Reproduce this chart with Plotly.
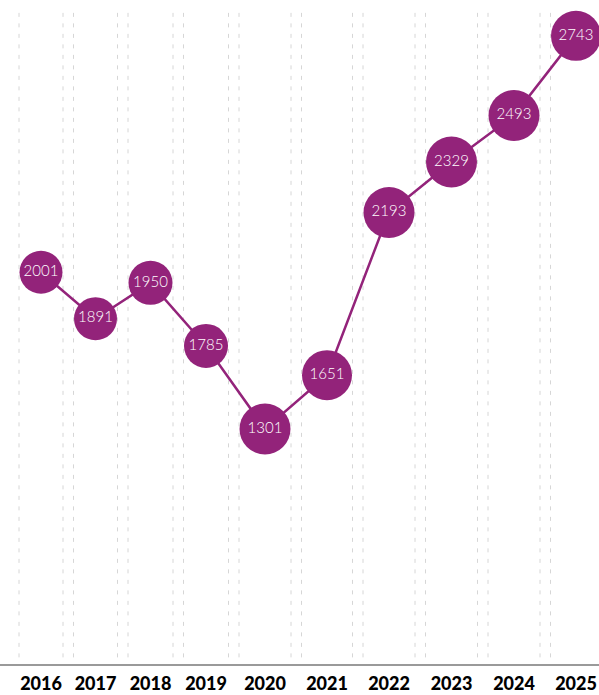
import plotly.graph_objects as go

# ---- data ----
years = ["2016", "2017", "2018", "2019", "2020", "2021", "2022", "2023", "2024", "2025"]
values = [2001, 1891, 1950, 1785, 1301, 1651, 2193, 2329, 2493, 2743]
# vertical position of each point (0-100 scale)
heights = [59.0, 52.0, 57.4, 47.9, 35.4, 43.5, 68.0, 75.6, 82.6, 94.6]

# ---- style ----
marker_sizes = [43, 43, 44, 44, 51, 50, 51, 51, 51, 50]
color = "#93237a"
start = 19
gap = 10.5

col_starts, centers, col_ends = [], [], []
pos = start
for s in marker_sizes:
    w = s + 1
    col_starts.append(pos)
    centers.append(pos + w / 2)
    col_ends.append(pos + w)
    pos += w + gap

fig = go.Figure()

fig.add_trace(go.Scatter(
    x=centers, y=heights,
    mode="lines+markers+text",
    line=dict(color=color, width=2.5),
    marker=dict(size=marker_sizes, color=color, opacity=1, line=dict(width=0)),
    opacity=1,
    text=[str(v) for v in values],
    textposition="middle center",
    textfont=dict(family="Lato", size=15, color="white", weight=300),
    hoverinfo="skip",
    showlegend=False,
    cliponaxis=False,
))

shapes = []
for xs in col_starts + col_ends:
    if xs > 598:
        continue
    shapes.append(dict(
        type="line", xref="x", yref="paper",
        x0=xs, x1=xs, y0=0.01, y1=0.985,
        line=dict(color="#d6d6d6", width=1, dash="4px,6.5px"),
        layer="below",
    ))

fig.update_layout(
    width=599, height=695,
    margin=dict(l=0, r=0, t=0, b=31, autoexpand=False),
    paper_bgcolor="white",
    plot_bgcolor="white",
    shapes=shapes,
    xaxis=dict(
        range=[0, 599],
        tickmode="array", tickvals=centers, ticktext=years,
        showgrid=False, zeroline=False,
        showline=True, linecolor="#9a9a9a", linewidth=1.5,
        ticks="", ticklabelstandoff=3, automargin=False,
        tickfont=dict(family="Lato", size=18, color="#000000", weight=900),
        fixedrange=True,
    ),
    yaxis=dict(
        range=[0, 100], automargin=False,
        showgrid=False, zeroline=False, showticklabels=False,
        showline=False, fixedrange=True,
    ),
)

fig.write_html(
    "out.html",
    config={"displayModeBar": False},
    post_script="document.body.style.margin='0px';document.body.style.overflow='hidden';",
)
